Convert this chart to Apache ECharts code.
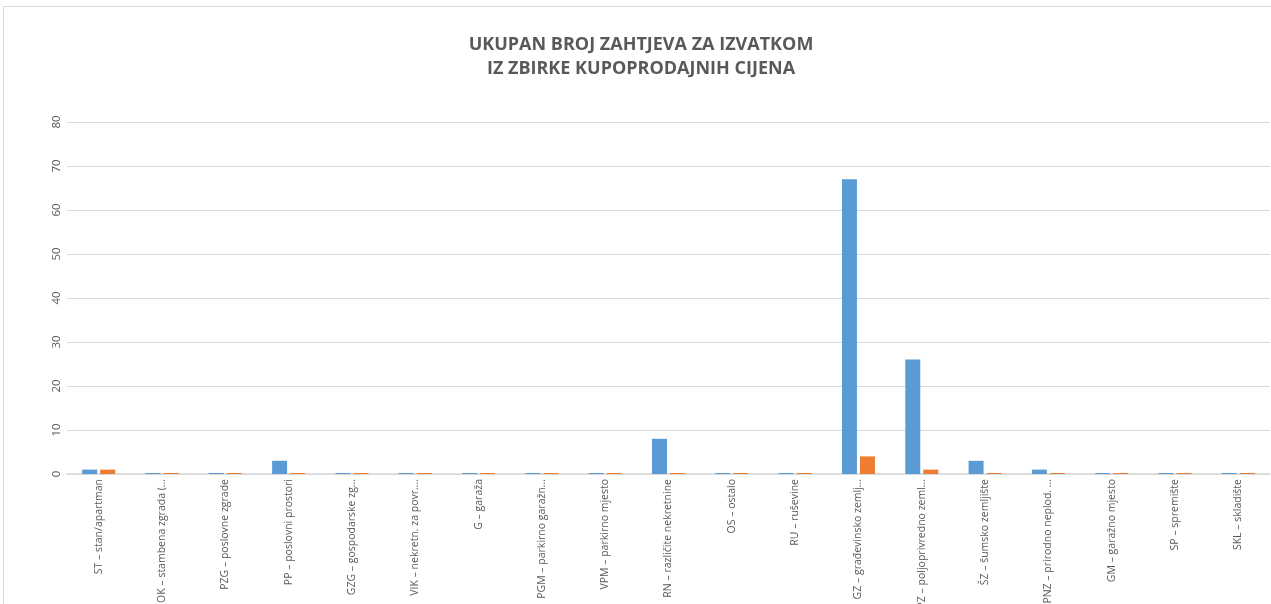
<!DOCTYPE html>
<html>
<head>
<meta charset="utf-8">
<script src="https://cdn.jsdelivr.net/npm/echarts@6/dist/echarts.min.js"></script>
<style>
  html, body { margin: 0; padding: 0; background: #ffffff; }
  #chart { width: 1271px; height: 604px; }
</style>
</head>
<body>
<div id="chart"></div>
<script>
// Vrste nekretnina (oznake kako su prikazane na osi)
const categories = [
  'ST – stan/apartman',
  'OK – stambena zgrada (…',
  'PZG – poslovne zgrade',
  'PP – poslovni prostori',
  'GZG – gospodarske zg…',
  'VIK – nekretn. za povr.…',
  'G – garaža',
  'PGM – parkirno garažn…',
  'VPM – parkirno mjesto',
  'RN – različite nekretnine',
  'OS – ostalo',
  'RU – ruševine',
  'GZ – građevinsko zemlj…',
  'PZ – poljoprivredno zeml…',
  'ŠZ – šumsko zemljište',
  'PNZ – prirodno neplod. …',
  'GM – garažno mjesto',
  'SP – spremište',
  'SKL – skladište'
];

// Broj zahtjeva po vrsti nekretnine
const niz1 = [1, 0, 0, 3, 0, 0, 0, 0, 0, 8, 0, 0, 67, 26, 3, 1, 0, 0, 0];
const niz2 = [1, 0, 0, 0, 0, 0, 0, 0, 0, 0, 0, 0, 4, 1, 0, 0, 0, 0, 0];

const yTicks = { min: 0, max: 80, interval: 10 };

const chart = echarts.init(document.getElementById('chart'), null, { renderer: 'canvas' });

const textColor = '#595959';
const fontFamily = '"Open Sans", "Noto Sans", sans-serif';

chart.setOption({
  backgroundColor: '#ffffff',
  animation: false,
  textStyle: { fontFamily: fontFamily },
  graphic: [{
    type: 'rect',
    shape: { x: 3.5, y: 6.5, width: 1400, height: 800 },
    style: { fill: 'none', stroke: '#d9d9d9', lineWidth: 1 },
    silent: true,
    z: -10
  }],
  title: {
    text: 'UKUPAN BROJ ZAHTJEVA ZA IZVATKOM\nIZ ZBIRKE KUPOPRODAJNIH CIJENA',
    left: 636,
    top: 28,
    textAlign: 'center',
    textStyle: {
      color: textColor,
      fontSize: 18,
      fontWeight: 'bold',
      fontFamily: fontFamily,
      lineHeight: 24
    }
  },
  grid: {
    left: 67,
    right: 1,
    top: 122,
    bottom: 130,
    containLabel: false,
    outerBoundsMode: 'none'
  },
  xAxis: {
    type: 'category',
    data: categories,
    axisLine: { show: true, lineStyle: { color: '#d9d9d9', width: 1.5 } },
    axisTick: { show: false },
    axisLabel: {
      rotate: 90,
      interval: 0,
      color: textColor,
      fontSize: 10.5,
      margin: 5,
      fontFamily: fontFamily
    }
  },
  yAxis: {
    type: 'value',
    min: yTicks.min,
    max: yTicks.max,
    interval: yTicks.interval,
    axisLine: { show: false },
    axisTick: { show: false },
    splitLine: { lineStyle: { color: '#d9d9d9', width: 1 } },
    axisLabel: {
      rotate: 90,
      color: textColor,
      fontSize: 11.5,
      margin: 4,
      fontFamily: fontFamily
    }
  },
  series: [
    {
      name: 'Niz1',
      type: 'bar',
      data: niz1,
      barWidth: 15,
      barGap: '20%',
      barMinHeight: 1,
      itemStyle: { color: '#5b9bd5' }
    },
    {
      name: 'Niz2',
      type: 'bar',
      data: niz2,
      barWidth: 15,
      barGap: '20%',
      barMinHeight: 1,
      itemStyle: { color: '#ed7d31' }
    }
  ]
});
</script>
</body>
</html>
